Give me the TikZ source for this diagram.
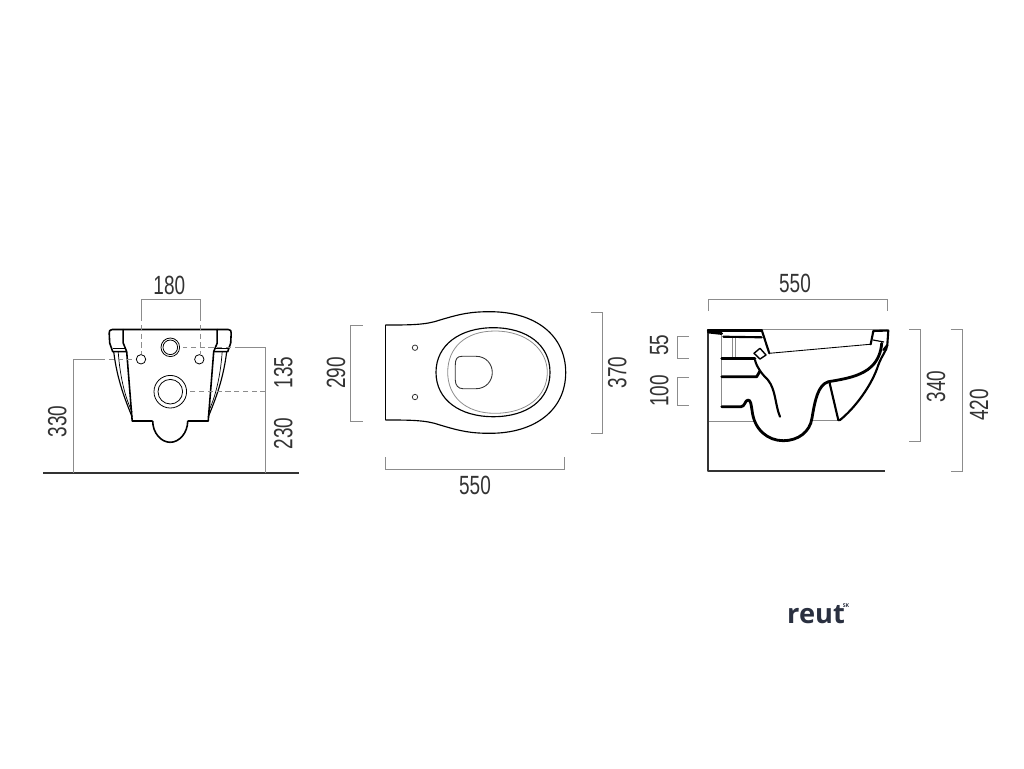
\documentclass[tikz,border=0pt]{standalone}
\usepackage{fontspec}
\setsansfont[FakeStretch=0.72]{Liberation Sans}
\newfontfamily\logofont{Open Sans}
\usepackage{tikz}
\definecolor{dimgray}{HTML}{8C8C8C}
\definecolor{textgray}{HTML}{333333}
\definecolor{logoblue}{HTML}{2A3040}
\tikzset{
    outline/.style={
        draw=black,
        line width=0.65pt,
        line join=round
    },
    heavy/.style={
        draw=black,
        line width=1.6pt,
        line cap=round,
        line join=round
    },
    thinline/.style={
        draw=dimgray,
        line width=0.45pt
    },
    dimline/.style={
        draw=dimgray,
        line width=0.55pt
    },
    hidden/.style={
        draw=dimgray,
        line width=0.55pt,
        dash pattern=on 3pt off 2pt
    },
    dimtext/.style={
        font=\sffamily\fontsize{15}{16}\selectfont,
        text=textgray,
        inner sep=0pt
    },
    dimtextup/.style={
        dimtext,
        rotate=90
    }
}

\begin{document}
\begin{tikzpicture}[x=0.02cm,y=-0.02cm]
    \useasboundingbox (0,0) rectangle (1024,768);

    %% Front view
    \draw[line width=0.9pt,draw=textgray] (43.3,473) -- (299,473);
    \foreach \side in {1,-1} {
        \begin{scope}[shift={(170.2,0)},xscale=\side]
            \draw[outline,line width=0.9pt] (0,329.5) -- (-47,329.5) -- (-47,343) -- (-43.5,351.7) -- (-38,421) -- (-17.5,421);
            \draw[outline,line width=0.9pt] (-47,329.5) -- (-58,329.5) .. controls (-60.5,329.5) and (-61,331) .. (-61,333) -- (-60.5,343) -- (-57.5,351.7) -- (-43.5,351.7);
            \draw[outline,line width=0.4pt] (-57.5,348) -- (-44,348);
            \draw[outline] (-56.5,351.7) .. controls (-53,380) and (-45,400) .. (-38,417);
            \draw[outline,line width=0.4pt] (-52,351.7) .. controls (-50,380) and (-44,400) .. (-38,412);
            \draw[outline,line width=0.9pt] (-17.5,421) .. controls (-17.5,433) and (-9,442.3) .. (0,442.3);
        \end{scope}
    }
    \draw[outline,line width=0.45pt] (141,359.3) circle (4.7);
    \draw[outline,line width=0.45pt] (199.3,359.3) circle (4.7);
    \draw[outline,line width=0.45pt] (170.3,347.3) circle (9.3);
    \draw[outline,line width=0.45pt] (170.3,347.3) circle (7.3);
    \draw[outline,line width=0.45pt] (170.3,391.7) circle (16.3);
    \draw[outline,line width=0.45pt] (170.3,391.7) circle (12.3);

    \draw[dimline] (141,316) -- (141,299.3) -- (200.3,299.3) -- (200.3,316);
    \draw[hidden] (141,316) -- (141,354);
    \draw[hidden] (200.3,316) -- (200.3,354);
    \draw[dimline] (73.7,473) -- (73.7,359.3) -- (100,359.3);
    \draw[hidden] (100,359.3) -- (133,359.3);
    \draw[dimline] (265.7,473) -- (265.7,347.3) -- (240,347.3);
    \draw[hidden] (240,347.3) -- (182.7,347.3);
    \draw[hidden] (265.7,391.7) -- (190,391.7);
    \node (wallA) [dimtext] at (169.3,285.7) {180};
    \node (wallB) [dimtextup] at (57.3,421.7) {330};
    \node (wallC) [dimtextup] at (283.3,372.3) {135};
    \node (wallD) [dimtextup] at (283.3,433.3) {230};

    %% Top view
    \draw[outline] (385.3,325) -- (385.3,420);
    \draw[outline] (385.3,325) .. controls (410,325) and (426,325) .. (440,320) .. controls (460,314) and (470,311.7) .. (490,311.7) .. controls (535,311.7) and (565.7,335) .. (565.7,372.5) .. controls (565.7,410) and (535,433.3) .. (490,433.3) .. controls (470,433.3) and (460,431) .. (440,425) .. controls (426,420) and (410,420) .. (385.3,420);
    \draw[outline] (436,372.3) .. controls (436,345) and (460,327.7) .. (493.3,327.7) .. controls (527,327.7) and (550,345) .. (550,372.3) .. controls (550,400) and (527,416.7) .. (493.3,416.7) .. controls (460,416.7) and (436,400) .. (436,372.3) -- cycle;
    \draw[thinline] (447.7,372.3) .. controls (447.7,348) and (465,331) .. (495,331) .. controls (527,331) and (547.3,350) .. (547.3,372.3) .. controls (547.3,396) and (527,413.3) .. (495,413.3) .. controls (465,413.3) and (447.7,396) .. (447.7,372.3) -- cycle;
    \draw[draw=textgray,line width=0.5pt] (455.3,365) .. controls (455.3,359) and (457,356.3) .. (462,356.3) -- (476,356.3) .. controls (486,356.3) and (492.3,364) .. (492.3,372.5) .. controls (492.3,381) and (486,388.7) .. (476,388.7) -- (463,388.7) .. controls (458,388.7) and (455.3,385) .. (455.3,380) -- cycle;
    \draw[draw=textgray,line width=0.45pt] (415,347.7) circle (2.7);
    \draw[draw=textgray,line width=0.45pt] (415,397) circle (2.7);

    \draw[dimline] (362.7,325) -- (350.7,325) -- (350.7,421) -- (362.7,421);
    \draw[dimline] (590.7,312.3) -- (602.3,312.3) -- (602.3,433.7) -- (590.7,433.7);
    \draw[dimline] (385.3,457.3) -- (385.3,469) -- (564.3,469) -- (564.3,457.3);
    \node (bowlA) [dimtextup] at (336,373) {290};
    \node (bowlB) [dimtextup] at (617.3,372.3) {370};
    \node (bowlC) [dimtext] at (475,485) {550};

    %% Section view
    \draw[thinline] (708.3,329.3) -- (887,329.3);
    \draw[thinline] (708.3,421) -- (755,421);
    \draw[thinline] (811.7,420.3) -- (839.3,420.3);
    \draw[thinline] (721.7,333.3) -- (721.7,407.7);
    \draw[thinline] (732.7,338) -- (732.7,358);
    \draw[thinline] (735,338) -- (735,358);
    \draw[outline,line width=1pt,draw=textgray] (708.3,329.3) -- (708.3,471) -- (885,471);
    \draw[heavy] (708.3,330.5) -- (761.7,330.5);
    \draw[heavy] (708.3,332) -- (721.7,333.5);
    \draw[heavy,line width=1.2pt] (723.3,336.7) -- (761.7,337.3);
    \draw[heavy] (721.7,358.7) -- (755,358.7);
    \draw[heavy] (721.7,376.7) -- (756.7,376.7) -- (760,371);
    \draw[heavy] (721.7,406.7) -- (741,406.7) .. controls (745,406.7) and (745,400) .. (748,400) .. controls (751,400) and (751,405) .. (752,410) .. controls (754,430) and (768,440.7) .. (783.3,440.7) .. controls (798,440.7) and (810,432) .. (812,418) .. controls (815,400) and (818,385) .. (828.3,381.7) .. controls (845,379) and (862,376) .. (872,366) .. controls (878,360) and (881,352) .. (881.7,343.3);
    \draw[heavy,line width=1.2pt] (755,360) .. controls (757,368) and (762,374) .. (768,380) .. controls (776,390) and (775,405) .. (780,416.7);
    \draw[heavy,line width=1.2pt] (761.7,330) -- (769.3,353.3);
    \draw[outline,line width=0.5pt] (769.3,353.3) -- (870,344.3);
    \draw[outline,line width=0.8pt,fill=white] (754,353.3) -- (760,348.3) -- (766,355) -- (760,359) -- cycle;
    \draw[heavy,line width=1.2pt] (829.3,381.7) -- (838.3,420);
    \draw[heavy,line width=1.2pt] (838.3,420) -- (840,420) .. controls (855,408) and (872,385) .. (878.3,365) .. controls (882,355) and (887,350) .. (887.3,345);
    \draw[heavy,line width=1.2pt] (870.7,344.3) -- (873.3,331) -- (888.3,330.5) -- (887.3,345) -- (883.3,350);
    \draw[outline] (873,340) -- (884,342);

    \draw[dimline] (708.3,311) -- (708.3,299) -- (887.3,299) -- (887.3,311);
    \draw[dimline] (689,336.7) -- (677.7,336.7) -- (677.7,358) -- (689,358);
    \draw[dimline] (689,377.3) -- (677.7,377.3) -- (677.7,405) -- (689,405);
    \draw[dimline] (909.3,329.3) -- (920.7,329.3) -- (920.7,441) -- (909.3,441);
    \draw[dimline] (950.7,329.3) -- (962.3,329.3) -- (962.3,471) -- (950.7,471);
    \node (sideA) [dimtext] at (795,283.3) {550};
    \node (sideB) [dimtextup] at (659.3,345) {55};
    \node (sideC) [dimtextup] at (659.3,391) {100};
    \node (sideD) [dimtextup] at (936,386.7) {340};
    \node (sideE) [dimtextup] at (979,405) {420};

    %% Logo
    \node (logo) [font=\logofont\bfseries\fontsize{15.5}{16}\selectfont,text=logoblue,inner sep=0pt] at (816,615) {reut};
    \node (logosk) [font=\logofont\bfseries\fontsize{3}{3}\selectfont,text=logoblue,inner sep=0pt] at (846,606) {SK};

\end{tikzpicture}
\end{document}
